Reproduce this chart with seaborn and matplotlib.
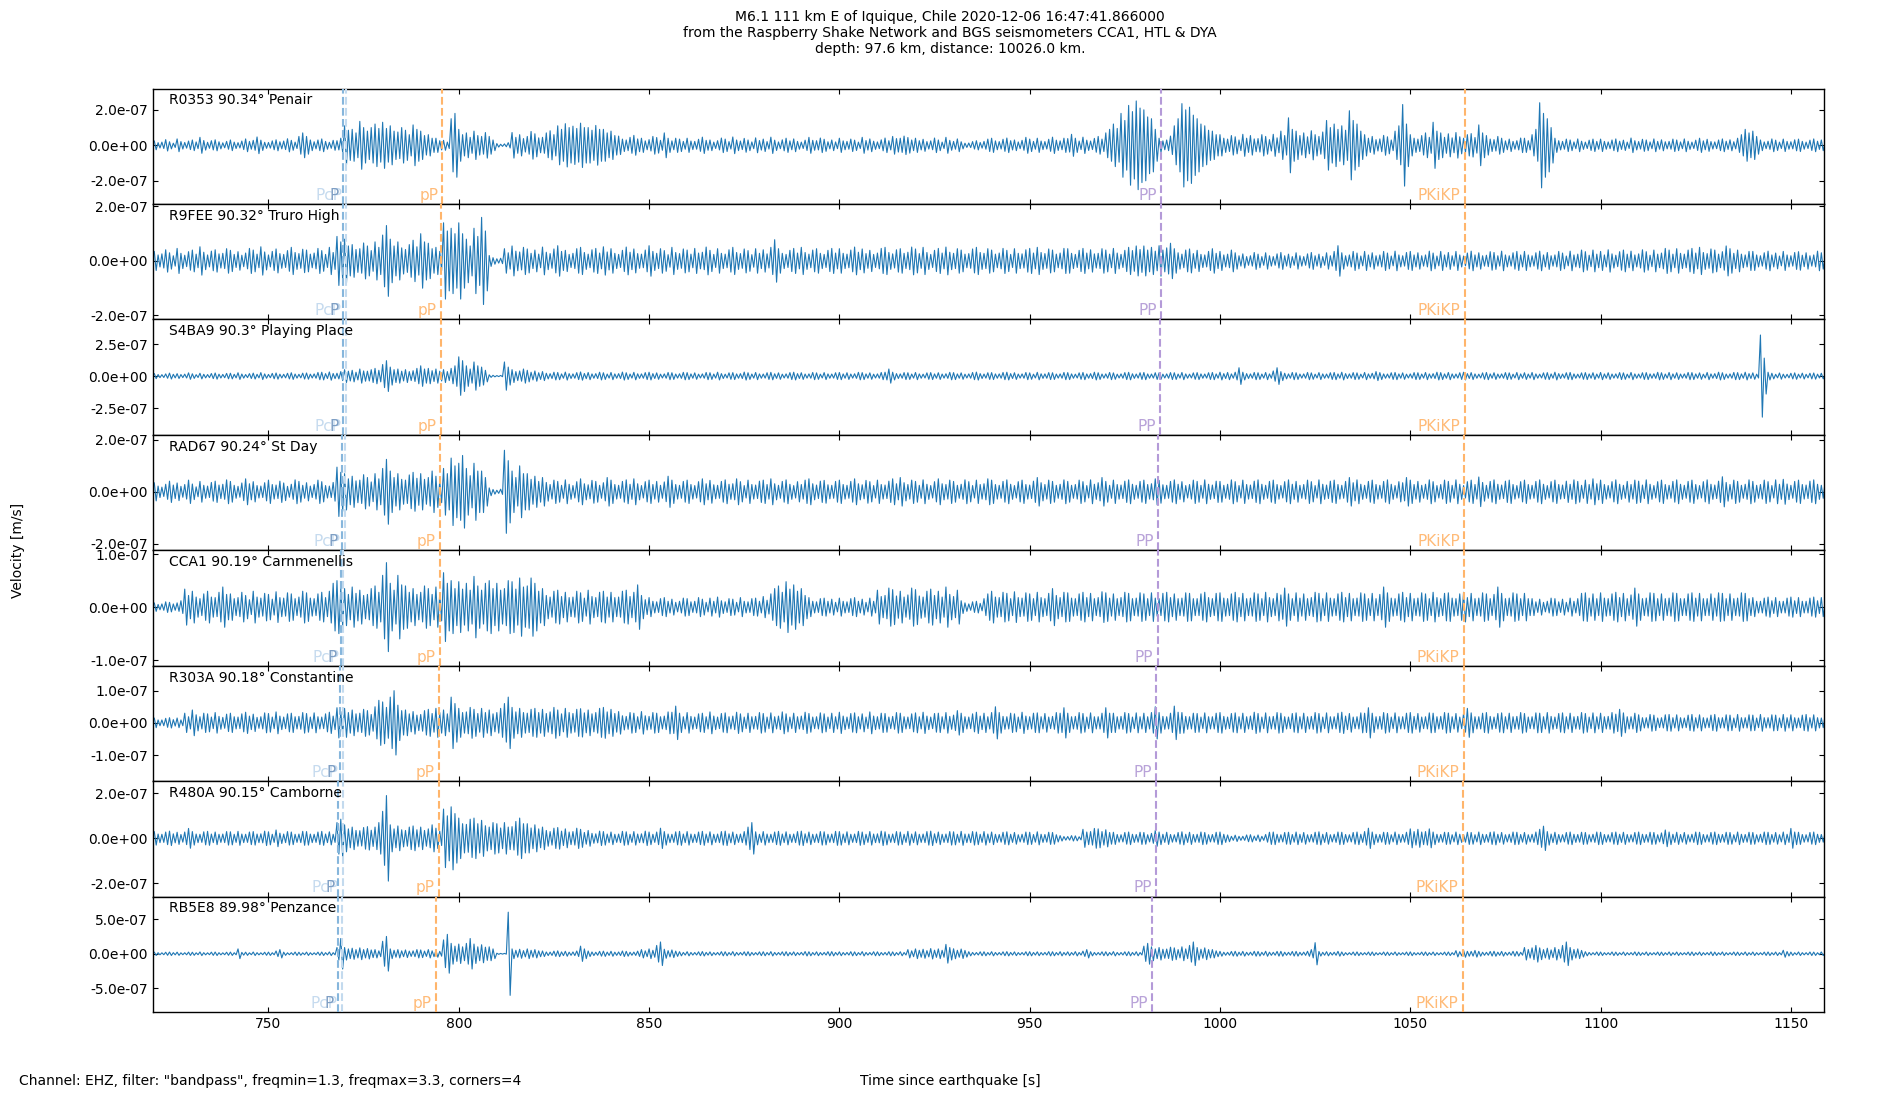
import numpy as np
import matplotlib
matplotlib.use("Agg")
import matplotlib.pyplot as plt
from matplotlib.ticker import FormatStrFormatter
import seaborn as sns

# stations, top to bottom
stations = ["R0353 90.34° Penair", "R9FEE 90.32° Truro High", "S4BA9 90.3° Playing Place",
            "RAD67 90.24° St Day", "CCA1 90.19° Carnmenellis", "R303A 90.18° Constantine",
            "R480A 90.15° Camborne", "RB5E8 89.98° Penzance"]

# peak amplitude in each 1 s window starting at 720 s, units of 1e-9 m/s
# one row = 20 s
t_start = 720
t_step = 1

amp_r0353 = [
    25, 15, 18, 32, 20, 12, 36, 21, 16, 24, 30, 19, 45, 27, 17, 26, 31, 20, 14, 22,
    30, 18, 15, 24, 36, 22, 28, 47, 29, 17, 16, 25, 31, 20, 24, 37, 28, 18, 50, 70,
    50, 30, 20, 30, 36, 22, 17, 28, 26, 40, 110, 85, 90, 70, 135, 100, 80, 100, 120, 95,
    130, 95, 110, 80, 75, 100, 85, 60, 115, 90, 80, 55, 60, 40, 40, 26, 28, 18, 150, 180,
    90, 60, 70, 45, 80, 55, 50, 72, 50, 30, 10, 6, 8, 15, 72, 45, 60, 38, 50, 78,
    65, 42, 45, 70, 82, 60, 110, 90, 122, 100, 108, 95, 125, 100, 100, 85, 112, 90, 90, 70,
    80, 55, 52, 35, 30, 45, 56, 36, 40, 25, 32, 50, 44, 28, 70, 40, 25, 40, 35, 22,
    40, 24, 22, 34, 46, 28, 30, 18, 26, 41, 35, 21, 47, 30, 24, 39, 30, 19, 42, 27,
    35, 21, 46, 29, 19, 31, 40, 25, 36, 22, 18, 29, 45, 28, 26, 41, 34, 20, 30, 19,
    40, 25, 22, 35, 29, 18, 45, 27, 36, 23, 19, 31, 41, 26, 50, 38, 40, 52, 44, 30,
    40, 26, 34, 21, 25, 41, 30, 18, 45, 28, 22, 36, 20, 12, 13, 21, 26, 16, 22, 35,
    40, 25, 21, 34, 41, 26, 30, 19, 28, 45, 35, 22, 40, 24, 21, 34, 46, 29, 25, 40,
    38, 62, 40, 24, 46, 29, 24, 39, 50, 35, 70, 90, 120, 95, 180, 140, 225, 190, 250, 210,
    200, 160, 150, 90, 40, 25, 30, 52, 110, 150, 235, 200, 215, 170, 150, 120, 110, 85, 80, 60,
    60, 40, 35, 55, 48, 30, 62, 40, 55, 36, 38, 60, 50, 32, 62, 42, 80, 55, 155, 90,
    80, 55, 70, 48, 82, 60, 50, 75, 140, 100, 120, 90, 110, 85, 195, 140, 120, 80, 60, 40,
    50, 32, 36, 56, 48, 30, 80, 110, 230, 120, 60, 40, 35, 55, 70, 45, 130, 80, 70, 45,
    65, 42, 72, 48, 40, 60, 66, 44, 115, 70, 55, 35, 32, 50, 40, 25, 35, 22, 26, 41,
    40, 26, 60, 90, 240, 180, 150, 100, 40, 26, 22, 35, 30, 19, 36, 23, 18, 29, 35, 22,
    35, 22, 19, 30, 36, 23, 29, 18, 41, 26, 21, 34, 30, 19, 36, 22, 31, 20, 22, 35,
    30, 19, 36, 23, 18, 29, 40, 25, 34, 21, 19, 30, 36, 23, 31, 20, 40, 60, 90, 70,
    80, 50, 30, 19, 23, 36, 29, 18, 35, 22, 20, 31, 35, 22, 18, 29, 36, 23, 30, 19]

amp_r9fee = [
    35, 22, 26, 41, 30, 19, 46, 28, 21, 34, 40, 25, 52, 32, 22, 36, 41, 26, 28, 45,
    39, 24, 34, 21, 29, 46, 40, 25, 52, 33, 22, 35, 44, 27, 24, 38, 50, 31, 27, 43,
    40, 25, 29, 46, 38, 24, 50, 31, 90, 70, 80, 55, 60, 42, 45, 66, 55, 38, 70, 50,
    95, 130, 80, 55, 70, 48, 42, 60, 76, 52, 100, 70, 65, 45, 50, 35, 140, 110, 120, 100,
    140, 100, 80, 55, 120, 90, 160, 110, 20, 12, 8, 10, 45, 30, 55, 36, 33, 50, 44, 28,
    40, 25, 51, 32, 27, 44, 56, 35, 39, 24, 28, 45, 50, 31, 25, 41, 46, 29, 52, 33,
    45, 28, 24, 39, 51, 32, 44, 27, 25, 40, 56, 35, 28, 45, 38, 23, 50, 31, 27, 44,
    40, 25, 46, 29, 32, 51, 39, 24, 45, 28, 25, 41, 50, 31, 27, 44, 38, 23, 45, 28,
    41, 26, 50, 78, 45, 28, 24, 39, 46, 29, 50, 31, 25, 40, 45, 28, 24, 39, 46, 29,
    45, 28, 25, 40, 51, 32, 44, 27, 39, 24, 29, 46, 50, 31, 26, 41, 45, 28, 32, 51,
    44, 27, 50, 31, 24, 39, 46, 29, 51, 32, 28, 45, 40, 25, 27, 44, 50, 31, 28, 45,
    40, 25, 29, 46, 39, 24, 45, 28, 26, 41, 46, 29, 50, 31, 27, 44, 40, 25, 29, 46,
    45, 28, 24, 39, 46, 29, 41, 26, 28, 45, 40, 25, 46, 29, 24, 39, 50, 38, 55, 42,
    55, 40, 50, 36, 56, 40, 48, 65, 45, 30, 25, 40, 44, 27, 39, 24, 22, 35, 45, 28,
    35, 22, 25, 40, 30, 19, 26, 16, 19, 31, 25, 16, 30, 19, 16, 26, 31, 19, 25, 16,
    30, 19, 16, 26, 31, 19, 25, 16, 30, 19, 35, 56, 30, 19, 22, 35, 29, 18, 35, 22,
    30, 19, 22, 35, 29, 18, 36, 22, 19, 31, 35, 22, 30, 19, 22, 36, 29, 18, 35, 22,
    31, 19, 35, 22, 18, 29, 36, 22, 30, 19, 21, 34, 31, 19, 36, 22, 19, 30, 35, 22,
    35, 22, 19, 30, 36, 22, 31, 19, 22, 35, 29, 18, 36, 22, 25, 40, 34, 21, 40, 25,
    35, 22, 41, 26, 21, 34, 40, 25, 36, 22, 26, 41, 34, 21, 40, 25, 29, 46, 40, 25,
    45, 28, 25, 40, 46, 29, 50, 31, 27, 44, 40, 25, 34, 55, 45, 28, 40, 25, 22, 35,
    35, 22, 19, 30, 36, 22, 29, 18, 35, 22, 19, 31, 34, 21, 30, 19, 22, 36, 30, 19]

amp_s4ba9 = [
    20, 12, 11, 17, 23, 14, 19, 12, 15, 25, 18, 11, 22, 14, 12, 20, 24, 15, 13, 21,
    22, 14, 26, 16, 12, 19, 23, 14, 27, 17, 13, 21, 24, 15, 14, 22, 26, 16, 14, 23,
    24, 15, 17, 28, 30, 19, 32, 20, 22, 35, 50, 38, 45, 30, 55, 40, 38, 50, 60, 45,
    90, 120, 70, 50, 55, 38, 50, 35, 42, 60, 80, 55, 60, 42, 55, 38, 50, 35, 60, 80,
    150, 120, 80, 55, 110, 80, 70, 45, 10, 6, 4, 5, 110, 70, 50, 35, 40, 55, 45, 30,
    40, 26, 35, 22, 19, 30, 28, 17, 31, 19, 17, 27, 32, 20, 28, 17, 19, 30, 26, 16,
    28, 17, 19, 31, 26, 16, 29, 18, 17, 27, 30, 19, 25, 15, 17, 28, 26, 16, 18, 29,
    27, 17, 25, 15, 17, 28, 26, 16, 30, 19, 15, 25, 27, 17, 19, 31, 26, 16, 28, 17,
    16, 26, 29, 18, 25, 15, 17, 27, 30, 19, 26, 16, 17, 28, 25, 15, 27, 17, 16, 26,
    28, 17, 26, 16, 18, 29, 27, 17, 25, 15, 17, 28, 30, 55, 30, 19, 17, 27, 26, 16,
    28, 17, 15, 25, 27, 17, 26, 16, 18, 29, 27, 17, 25, 15, 17, 28, 31, 19, 16, 26,
    27, 17, 17, 28, 30, 19, 26, 16, 17, 28, 25, 15, 29, 18, 17, 27, 26, 16, 17, 28,
    27, 17, 15, 25, 28, 17, 19, 30, 26, 16, 17, 28, 25, 15, 17, 27, 29, 18, 16, 26,
    28, 17, 16, 26, 25, 15, 17, 27, 26, 16, 28, 17, 15, 25, 27, 17, 16, 26, 28, 17,
    30, 19, 28, 17, 30, 65, 30, 19, 17, 28, 26, 16, 28, 17, 40, 65, 35, 22, 17, 28,
    26, 16, 17, 28, 25, 15, 27, 17, 16, 26, 28, 17, 30, 19, 17, 27, 25, 15, 28, 17,
    22, 35, 27, 17, 16, 26, 28, 17, 25, 15, 17, 27, 26, 16, 28, 17, 19, 30, 27, 17,
    28, 17, 16, 26, 30, 19, 27, 17, 15, 25, 28, 17, 26, 16, 17, 27, 25, 15, 28, 17,
    26, 16, 28, 17, 15, 25, 27, 17, 30, 19, 16, 26, 28, 17, 15, 25, 27, 17, 26, 16,
    28, 17, 26, 16, 17, 27, 25, 15, 28, 17, 16, 26, 27, 17, 18, 29, 26, 16, 28, 17,
    26, 16, 17, 28, 27, 17, 25, 15, 28, 17, 19, 30, 26, 16, 17, 28, 27, 17, 30, 19,
    25, 15, 320, 140, 30, 22, 14, 24, 15, 14, 22, 25, 15, 23, 14, 22, 24, 15, 22, 16]

amp_rad67 = [
    35, 22, 18, 29, 41, 26, 34, 21, 28, 45, 30, 19, 40, 25, 22, 36, 41, 26, 29, 46,
    40, 25, 21, 34, 50, 31, 39, 24, 22, 35, 45, 28, 26, 41, 34, 21, 29, 46, 40, 25,
    35, 22, 28, 45, 39, 24, 22, 36, 95, 75, 70, 50, 60, 42, 45, 66, 55, 38, 70, 50,
    90, 125, 80, 55, 70, 48, 45, 65, 75, 52, 70, 48, 55, 80, 60, 42, 90, 70, 130, 100,
    110, 140, 90, 62, 110, 80, 80, 55, 15, 9, 6, 10, 160, 120, 80, 55, 100, 70, 70, 48,
    60, 40, 55, 36, 28, 45, 40, 25, 46, 29, 24, 39, 50, 31, 27, 44, 40, 25, 35, 55,
    45, 28, 25, 40, 46, 29, 50, 31, 24, 39, 45, 28, 40, 25, 38, 60, 45, 28, 25, 40,
    45, 28, 24, 39, 50, 31, 44, 27, 25, 40, 46, 29, 31, 50, 39, 24, 45, 28, 26, 41,
    45, 28, 50, 31, 25, 40, 46, 29, 24, 39, 28, 45, 50, 31, 26, 41, 44, 27, 25, 40,
    45, 28, 25, 40, 50, 31, 27, 44, 39, 24, 45, 28, 26, 41, 50, 31, 55, 35, 28, 45,
    40, 25, 46, 29, 24, 39, 50, 31, 28, 45, 40, 25, 29, 46, 39, 24, 45, 28, 31, 50,
    45, 28, 25, 40, 46, 29, 24, 39, 45, 28, 26, 41, 55, 35, 28, 45, 40, 25, 29, 46,
    40, 25, 28, 45, 39, 24, 46, 29, 35, 55, 40, 25, 45, 28, 26, 41, 46, 29, 25, 40,
    45, 28, 31, 50, 44, 27, 25, 40, 46, 29, 39, 24, 28, 45, 40, 25, 46, 29, 26, 41,
    40, 25, 29, 46, 39, 24, 45, 28, 26, 41, 46, 29, 25, 40, 45, 28, 24, 39, 46, 29,
    40, 25, 28, 45, 39, 24, 46, 29, 26, 41, 45, 28, 25, 40, 55, 35, 46, 29, 25, 40,
    45, 28, 25, 40, 46, 29, 24, 39, 35, 55, 45, 28, 40, 25, 29, 46, 39, 24, 28, 45,
    40, 25, 46, 29, 24, 39, 45, 28, 57, 36, 25, 40, 46, 29, 26, 41, 45, 28, 24, 39,
    45, 28, 25, 40, 46, 29, 24, 39, 45, 28, 26, 41, 29, 46, 40, 25, 45, 28, 50, 31,
    45, 28, 24, 39, 46, 29, 25, 40, 28, 45, 41, 26, 46, 29, 24, 39, 45, 28, 25, 40,
    46, 29, 25, 40, 45, 28, 24, 39, 46, 29, 26, 41, 58, 36, 28, 45, 40, 25, 29, 46,
    40, 25, 28, 45, 39, 24, 46, 29, 48, 30, 25, 40, 45, 28, 26, 41, 46, 29, 25, 40]

amp_cca1 = [
    8, 5, 6, 10, 9, 6, 8, 12, 34, 22, 30, 19, 16, 25, 30, 19, 18, 28, 38, 24,
    25, 16, 18, 28, 22, 14, 30, 19, 17, 26, 24, 15, 29, 18, 17, 27, 25, 16, 19, 30,
    27, 17, 16, 25, 28, 18, 30, 45, 50, 36, 35, 24, 38, 26, 32, 22, 24, 35, 40, 28,
    60, 84, 45, 32, 60, 42, 40, 28, 35, 24, 28, 40, 35, 24, 38, 26, 65, 45, 50, 35,
    48, 34, 45, 32, 58, 40, 32, 45, 50, 35, 45, 32, 35, 50, 48, 34, 55, 38, 40, 55,
    45, 30, 35, 22, 19, 30, 32, 20, 28, 18, 19, 30, 27, 17, 32, 20, 18, 28, 30, 19,
    28, 18, 19, 30, 32, 20, 28, 42, 22, 14, 18, 11, 10, 16, 18, 11, 15, 9, 11, 17,
    16, 10, 11, 18, 15, 9, 17, 11, 19, 12, 10, 16, 15, 9, 18, 11, 10, 16, 17, 11,
    20, 13, 25, 35, 40, 28, 48, 34, 42, 30, 35, 22, 18, 11, 10, 16, 17, 11, 15, 9,
    17, 11, 10, 16, 18, 11, 15, 9, 17, 11, 32, 20, 22, 36, 33, 21, 30, 19, 23, 36,
    33, 21, 19, 30, 34, 22, 30, 19, 38, 24, 20, 32, 12, 8, 6, 10, 11, 7, 16, 25,
    30, 19, 18, 28, 26, 16, 29, 18, 17, 27, 25, 16, 28, 18, 16, 26, 35, 22, 18, 28,
    27, 17, 16, 25, 28, 18, 26, 16, 18, 29, 27, 17, 25, 16, 18, 28, 26, 16, 17, 27,
    25, 16, 27, 17, 16, 26, 28, 18, 25, 16, 17, 27, 26, 16, 16, 25, 28, 18, 16, 26,
    27, 17, 16, 25, 28, 18, 26, 16, 17, 27, 25, 16, 28, 18, 16, 26, 23, 36, 25, 16,
    27, 17, 25, 16, 18, 28, 26, 16, 27, 17, 16, 25, 28, 18, 26, 16, 17, 27, 25, 16,
    26, 16, 24, 38, 27, 17, 16, 25, 28, 18, 26, 16, 17, 27, 25, 16, 28, 18, 16, 26,
    27, 17, 16, 25, 28, 18, 26, 16, 17, 27, 25, 16, 24, 38, 26, 16, 17, 27, 25, 16,
    26, 16, 16, 10, 15, 9, 11, 17, 16, 10, 15, 9, 17, 11, 16, 26, 27, 17, 25, 16,
    27, 17, 16, 25, 28, 18, 26, 16, 23, 36, 25, 16, 17, 27, 26, 16, 25, 16, 17, 27,
    26, 16, 16, 25, 27, 17, 26, 16, 16, 25, 17, 27, 26, 16, 25, 16, 17, 27, 26, 16,
    18, 11, 11, 17, 19, 12, 18, 11, 11, 17, 19, 12, 18, 11, 11, 17, 19, 12, 18, 11]

amp_r303a = [
    15, 9, 9, 14, 16, 10, 15, 9, 30, 19, 40, 25, 19, 30, 28, 18, 32, 20, 17, 27,
    30, 19, 18, 28, 33, 21, 27, 17, 19, 31, 29, 18, 34, 21, 18, 28, 30, 19, 20, 32,
    29, 18, 31, 19, 18, 28, 33, 21, 47, 35, 45, 32, 40, 28, 30, 42, 38, 26, 50, 70,
    65, 48, 80, 100, 55, 38, 40, 28, 35, 24, 26, 38, 42, 29, 45, 32, 40, 28, 80, 60,
    45, 32, 34, 48, 42, 29, 45, 32, 40, 28, 32, 45, 60, 80, 48, 34, 45, 32, 30, 42,
    45, 32, 42, 29, 34, 48, 40, 28, 45, 32, 29, 42, 44, 31, 40, 28, 32, 45, 48, 34,
    42, 29, 35, 22, 20, 32, 30, 19, 35, 22, 20, 32, 30, 19, 21, 34, 33, 52, 30, 19,
    32, 20, 18, 28, 30, 19, 34, 21, 18, 29, 31, 19, 21, 33, 28, 18, 30, 19, 20, 32,
    29, 18, 31, 19, 21, 34, 28, 18, 30, 19, 21, 33, 29, 18, 19, 31, 28, 18, 30, 19,
    33, 21, 18, 29, 31, 19, 28, 18, 34, 21, 19, 30, 29, 18, 20, 32, 30, 19, 18, 28,
    31, 19, 33, 21, 18, 29, 30, 19, 32, 20, 24, 38, 30, 19, 18, 28, 33, 21, 30, 19,
    32, 50, 32, 20, 19, 30, 28, 18, 33, 21, 19, 30, 31, 19, 29, 18, 20, 32, 30, 47,
    30, 19, 20, 32, 29, 18, 31, 19, 19, 30, 47, 30, 30, 19, 20, 32, 29, 18, 31, 19,
    30, 19, 32, 50, 32, 20, 19, 30, 52, 33, 32, 20, 19, 30, 29, 18, 31, 19, 19, 30,
    32, 20, 18, 29, 31, 19, 30, 19, 21, 33, 29, 18, 31, 19, 20, 32, 30, 19, 18, 29,
    31, 19, 30, 19, 20, 32, 29, 18, 31, 19, 19, 30, 33, 21, 29, 18, 19, 31, 30, 47,
    30, 19, 20, 32, 29, 18, 31, 19, 19, 30, 32, 20, 29, 18, 19, 31, 30, 19, 20, 32,
    30, 19, 29, 18, 29, 45, 31, 19, 19, 30, 32, 20, 18, 29, 31, 19, 30, 19, 20, 32,
    29, 18, 19, 31, 30, 19, 32, 20, 18, 29, 31, 19, 30, 19, 20, 32, 29, 18, 31, 19,
    30, 19, 20, 32, 27, 42, 31, 19, 19, 30, 25, 16, 16, 26, 24, 15, 16, 25, 26, 16,
    25, 16, 15, 24, 26, 16, 25, 16, 15, 24, 26, 16, 16, 25, 24, 15, 26, 16, 16, 25,
    24, 15, 26, 16, 16, 25, 24, 15, 26, 16, 25, 16, 15, 24, 26, 16, 25, 16, 15, 24]

amp_r480a = [
    30, 19, 18, 28, 32, 20, 27, 17, 28, 44, 30, 19, 18, 29, 31, 19, 28, 18, 19, 30,
    29, 18, 31, 19, 18, 28, 30, 19, 20, 32, 29, 18, 37, 23, 19, 30, 28, 18, 19, 31,
    30, 19, 18, 28, 31, 19, 29, 18, 70, 85, 60, 42, 50, 35, 34, 48, 52, 36, 50, 70,
    120, 190, 60, 42, 55, 38, 35, 50, 55, 38, 50, 35, 42, 60, 45, 32, 130, 100, 140, 110,
    90, 65, 62, 85, 90, 65, 80, 56, 50, 70, 65, 46, 70, 50, 52, 75, 90, 65, 65, 46,
    60, 42, 50, 35, 30, 45, 48, 32, 42, 28, 30, 45, 40, 26, 35, 22, 20, 32, 30, 19,
    28, 18, 19, 31, 29, 18, 30, 19, 20, 32, 28, 18, 28, 45, 30, 19, 18, 29, 31, 19,
    30, 19, 18, 28, 31, 19, 29, 18, 19, 30, 32, 20, 28, 18, 19, 30, 50, 70, 29, 18,
    30, 19, 18, 28, 31, 19, 29, 18, 19, 30, 32, 20, 28, 18, 19, 30, 29, 18, 19, 31,
    30, 19, 29, 18, 19, 31, 28, 18, 30, 19, 20, 32, 29, 18, 19, 30, 28, 18, 31, 19,
    29, 18, 19, 30, 32, 20, 28, 18, 19, 30, 29, 18, 31, 19, 19, 30, 28, 18, 30, 19,
    28, 18, 17, 27, 29, 18, 26, 16, 18, 28, 27, 17, 29, 18, 17, 27, 26, 16, 12, 8,
    8, 12, 11, 7, 40, 28, 30, 44, 42, 30, 38, 26, 27, 17, 16, 26, 28, 18, 17, 27,
    26, 16, 22, 35, 28, 18, 27, 17, 16, 26, 29, 18, 27, 17, 18, 28, 26, 16, 17, 27,
    28, 18, 15, 9, 14, 9, 9, 15, 16, 10, 15, 9, 17, 27, 28, 18, 16, 26, 27, 17,
    28, 18, 26, 16, 17, 27, 29, 18, 26, 16, 18, 28, 27, 17, 16, 26, 28, 18, 30, 45,
    28, 18, 17, 27, 26, 16, 28, 18, 17, 27, 42, 30, 40, 28, 30, 42, 28, 18, 17, 27,
    26, 16, 28, 18, 17, 27, 26, 16, 28, 18, 17, 27, 29, 18, 26, 16, 18, 28, 27, 17,
    26, 16, 18, 28, 40, 54, 30, 19, 27, 17, 16, 26, 28, 18, 17, 27, 26, 16, 18, 28,
    27, 17, 16, 26, 28, 18, 27, 17, 16, 26, 28, 18, 17, 27, 26, 16, 24, 37, 28, 18,
    27, 17, 26, 16, 18, 28, 27, 17, 16, 26, 28, 18, 17, 27, 26, 16, 28, 18, 17, 27,
    26, 16, 18, 28, 27, 17, 26, 16, 28, 18, 44, 28, 27, 17, 16, 26, 28, 18, 17, 27]

amp_rb5e8 = [
    24, 15, 14, 22, 25, 16, 23, 14, 15, 24, 22, 14, 26, 16, 14, 23, 25, 16, 14, 22,
    24, 15, 70, 20, 23, 14, 25, 16, 14, 22, 24, 15, 40, 60, 23, 14, 16, 25, 22, 14,
    24, 15, 14, 23, 25, 16, 26, 16, 90, 220, 90, 70, 80, 60, 85, 60, 75, 55, 60, 42,
    180, 250, 70, 50, 60, 42, 55, 38, 42, 60, 55, 38, 60, 42, 50, 35, 200, 280, 150, 110,
    140, 100, 150, 220, 140, 100, 130, 95, 100, 70, 8, 5, 5, 600, 70, 50, 65, 45, 70, 50,
    60, 42, 40, 26, 24, 38, 42, 27, 36, 23, 26, 40, 110, 70, 40, 26, 22, 35, 38, 24,
    36, 23, 26, 40, 35, 22, 24, 38, 60, 42, 70, 50, 120, 170, 65, 45, 55, 38, 30, 19,
    30, 19, 18, 28, 32, 20, 27, 17, 19, 30, 29, 18, 31, 19, 18, 28, 30, 19, 17, 27,
    29, 18, 31, 19, 18, 28, 30, 19, 27, 17, 20, 32, 29, 18, 28, 18, 19, 30, 31, 19,
    28, 18, 19, 30, 27, 17, 31, 19, 18, 29, 28, 18, 19, 30, 27, 17, 29, 18, 60, 42,
    70, 50, 65, 45, 75, 52, 70, 50, 135, 90, 72, 50, 68, 48, 30, 19, 18, 28, 29, 18,
    30, 19, 18, 28, 31, 19, 27, 17, 18, 29, 30, 19, 28, 18, 19, 31, 29, 18, 30, 19,
    28, 18, 31, 19, 38, 60, 30, 19, 18, 28, 29, 18, 31, 19, 18, 28, 30, 19, 29, 18,
    110, 150, 100, 70, 90, 65, 68, 95, 85, 60, 100, 70, 120, 170, 90, 65, 85, 60, 60, 42,
    35, 22, 21, 33, 36, 23, 34, 21, 22, 35, 33, 21, 36, 23, 21, 34, 35, 22, 21, 33,
    34, 21, 23, 36, 60, 160, 33, 21, 30, 19, 22, 35, 26, 16, 16, 25, 27, 17, 16, 25,
    26, 16, 15, 25, 24, 15, 26, 16, 16, 25, 27, 17, 15, 24, 26, 16, 25, 16, 15, 24,
    26, 16, 45, 30, 50, 35, 34, 48, 35, 22, 21, 33, 36, 23, 34, 21, 22, 35, 33, 21,
    90, 62, 85, 120, 85, 60, 80, 56, 90, 62, 120, 170, 90, 62, 70, 48, 30, 19, 16, 26,
    25, 16, 16, 26, 24, 15, 25, 16, 17, 27, 24, 15, 26, 16, 16, 25, 24, 15, 26, 16,
    25, 16, 15, 24, 26, 16, 25, 16, 17, 27, 24, 15, 26, 16, 16, 25, 24, 15, 26, 16,
    25, 16, 15, 24, 26, 16, 25, 16, 50, 32, 24, 15, 26, 16, 16, 25, 24, 15, 26, 16]

amps = [amp_r0353, amp_r9fee, amp_s4ba9, amp_rad67, amp_cca1, amp_r303a, amp_r480a, amp_rb5e8]

# phase arrival times [s] for each station
t_p = [769.6, 769.6, 769.6, 769.3, 769.0, 768.7, 768.4, 768.2]
t_pcp = [770.5, 770.4, 770.4, 770.0, 769.7, 769.6, 769.5, 769.2]
t_pp_depth = [795.7, 795.4, 795.4, 795.1, 795.0, 794.8, 794.7, 793.9]
t_pp = [984.6, 984.6, 984.3, 983.7, 983.6, 983.3, 983.3, 982.1]
t_pkikp = [1064.3, 1064.3, 1064.3, 1064.1, 1064.0, 1064.0, 1063.8, 1063.8]

phases = [("PcP", t_pcp, "#c3daee", "#c6dbef"),
          ("P", t_p, "#86b6dc", "#7f9fc4"),
          ("pP", t_pp_depth, "#ffb56b", "#ffbb78"),
          ("PP", t_pp, "#b49ad8", "#b9a3d9"),
          ("PKiKP", t_pkikp, "#ffb56b", "#ffbb78")]

# axis limits and tick steps per panel
ylims = [(-3.31e-7, 3.20e-7), (-2.15e-7, 2.09e-7), (-4.59e-7, 4.41e-7), (-2.26e-7, 2.19e-7),
         (-1.11e-7, 1.07e-7), (-1.82e-7, 1.77e-7), (-2.60e-7, 2.53e-7), (-8.45e-7, 8.21e-7)]
ysteps = [2e-7, 2e-7, 2.5e-7, 2e-7, 1e-7, 1e-7, 2e-7, 5e-7]

sns.set_style("ticks", {"xtick.direction": "in", "ytick.direction": "in",
                        "axes.edgecolor": "black", "xtick.color": "black",
                        "ytick.color": "black", "text.color": "black"})
plt.rcParams["font.family"] = ["DejaVu Sans"]
plt.rcParams["font.size"] = 10
plt.rcParams["axes.linewidth"] = 1.0


def zigzag(amp):
    # each window's peak goes up, then down half a window later
    a = np.asarray(amp, dtype=float) * 1e-9
    t0 = t_start + t_step * np.arange(len(a))
    t = np.column_stack([t0, t0 + t_step / 2]).ravel()
    v = np.column_stack([a, -a]).ravel()
    return t, v


fig, axes = plt.subplots(8, 1, sharex=True, figsize=(19, 11), dpi=100)
fig.subplots_adjust(left=0.0804, right=0.96, top=0.9195, bottom=0.0797, hspace=0)

for i, ax in enumerate(axes):
    t, v = zigzag(amps[i])
    sns.lineplot(x=t, y=v, ax=ax, color="#1f77b4", linewidth=0.8, estimator=None, sort=False)
    for name, times, lc, tc in phases:
        ax.axvline(times[i], color=lc, ls="--", lw=1.5, zorder=3)
        ax.annotate(name, xy=(times[i], 0.0), xycoords=ax.get_xaxis_transform(),
                    xytext=(-3, 1), textcoords="offset points", ha="right", va="bottom",
                    color=tc, fontsize=11)
    ax.text(0.01, 0.96, stations[i], transform=ax.transAxes, ha="left", va="top", fontsize=10)
    s = ysteps[i]
    ax.set_ylim(*ylims[i])
    ax.set_yticks([-s, 0, s])
    ax.yaxis.set_major_formatter(FormatStrFormatter("%.1e"))
    ax.tick_params(direction="in", top=True, right=True, labelsize=10)
    ax.set_xlim(719.6, 1158.7)
    ax.set_ylabel("")

axes[-1].set_xticks([750, 800, 850, 900, 950, 1000, 1050, 1100, 1150])
axes[-1].set_xlabel("")

fig.text(0.5, 0.991, "M6.1 111 km E of Iquique, Chile 2020-12-06 16:47:41.866000\n"
         "from the Raspberry Shake Network and BGS seismometers CCA1, HTL & DYA\n"
         "depth: 97.6 km, distance: 10026.0 km.", ha="center", va="top", fontsize=10)
fig.text(0.0095, 0.5, "Velocity [m/s]", rotation=90, ha="center", va="center", fontsize=10)
fig.text(0.5, 0.0173, "Time since earthquake [s]", ha="center", va="center", fontsize=10)
fig.text(0.0102, 0.0173, 'Channel: EHZ, filter: "bandpass", freqmin=1.3, freqmax=3.3, corners=4',
         ha="left", va="center", fontsize=10)

fig.savefig("out.png", dpi=100)
